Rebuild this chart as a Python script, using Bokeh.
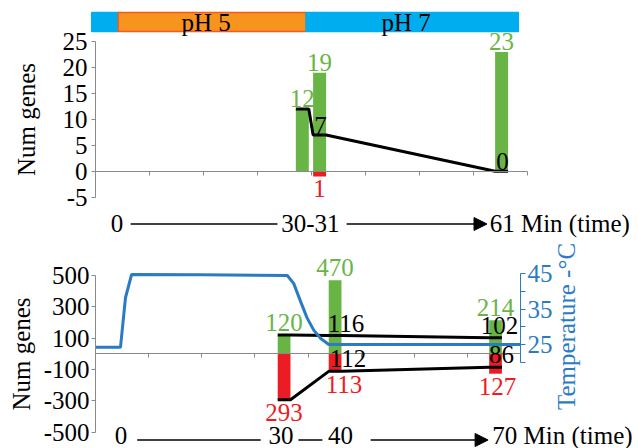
import math
from bokeh.plotting import figure
from bokeh.models import (ColumnDataSource, LabelSet, Range1d, LinearAxis,
                          FixedTicker, Arrow, NormalHead, CustomJSTickFormatter)
from bokeh.embed import file_html
from bokeh.resources import INLINE
from bokeh.core.properties import value

# ---------------- data ----------------
slot_ticks = [0, 1, 2, 3, 4, 5, 6, 7, 8]

# top panel: pH shift
top_slot = [3.83, 4.15, 7.52]
top_up = [12, 19, 23]
top_down = [0, 1, 0]
top_kept = [12, 7, 0]
top_yticks = [-5, 0, 5, 10, 15, 20, 25]

ph_names = ["", "pH 5", "pH 7"]
ph_from = [-0.07, 0.42, 3.90]
ph_to = [0.42, 3.90, 7.83]

top_time_text = ["0", "30-31", "61 Min (time)"]
top_time_slot = [0.40, 3.98, 7.30]
top_time_line_from = [0.65, 4.65]
top_time_line_to = [3.37, 7.25]

# bottom panel: temperature shift
bot_slot = [3.55, 4.51, 7.53]
bot_up = [120, 470, 214]
bot_down = [293, 113, 127]
bot_kept_up = [120, 116, 102]
bot_kept_down = [293, 112, 86]
bot_yticks = [-500, -300, -100, 100, 300, 500]

temp_slot = [0.0, 0.47, 0.565, 0.68, 1.98, 3.61, 3.73, 3.86, 3.98, 4.11, 4.24, 4.39, 8.0]
temp_c = [24.2, 24.2, 38.3, 44.8, 44.7, 44.5, 42.3, 37.2, 32.6, 29.0, 26.7, 25.0, 25.0]
temp_ticks = [25, 35, 45]
temp_minor = [20, 30, 40]
temp_title = "Temperature -°C"

bot_time_text = ["0", "30", "40", "70 Min (time)"]
bot_time_slot = [0.48, 3.49, 4.61, 7.47]
bot_time_line_from = [0.785, 3.82, 5.18]
bot_time_line_to = [3.11, 4.27, 7.39]

# ---------------- style / layout ----------------
FONT = "Liberation Serif"
FS = "25px"
GRAY = "#8a8a8a"
GREEN = "#68b545"
RED = "#ec1c24"
BLUE_T = "#2a7bc4"
PH_BLUE = "#00aeef"
PH_ORANGE = "#f7941d"
PH_EDGE = "#f15a24"
BAR_W = 0.24

W, H = 638, 448
X_LO, X_HI, Y_LO, Y_HI = 0, W, 0, H   # picture pixels covered by the canvas

# picture-pixel anchors of each scale
TX0, TXU = 95.0, 54.0       # top: slot 0 at x=95, px per slot
TZ, TGU = 170.7, 5.18       # top: gene 0 at y, px per gene
BX0, BXU = 95.0, 53.125     # bottom
BZ, BGU = 353.3, 0.1567
T45, TCU = 273.3, 3.536     # temperature: 45 C at y, px per degree


def hrange(x0, ppu):
    return Range1d((X_LO - x0) / ppu, (X_HI - x0) / ppu)


def vrange(y0, v0, ppu):
    return Range1d(v0 + (y0 - Y_HI) / ppu, v0 + (y0 - Y_LO) / ppu)


def tgy(py):   # picture y -> top gene units
    return (TZ - py) / TGU


def bgy(py):
    return (BZ - py) / BGU


p = figure(width=W, height=H, x_range=hrange(BX0, BXU), y_range=vrange(BZ, 0, BGU),
           x_axis_location=None, y_axis_location=None,
           output_backend="svg", toolbar_location=None,
           min_border_left=0, min_border_right=0, min_border_top=0, min_border_bottom=0)
p.extra_x_ranges = {"xtop": hrange(TX0, TXU)}
p.extra_y_ranges = {"top": vrange(TZ, 0, TGU), "temp": vrange(T45, 45, TCU)}
p.outline_line_color = None
p.grid.visible = False

TOP = dict(x_range_name="xtop", y_range_name="top")
BOT = dict()
PLAIN = "return tick.toString()"


def add_labels(xs, ys, texts, color, yoff=0, xoff=0, align="center", rn=BOT,
               baseline="alphabetic", angle=0):
    src = ColumnDataSource(dict(x=xs, y=ys, t=texts))
    p.add_layout(LabelSet(x="x", y="y", text="t", source=src, angle=angle,
                          text_font=value(FONT), text_font_size=FS,
                          text_color=color, text_align=align,
                          text_baseline=baseline, x_offset=xoff, y_offset=yoff,
                          **rn))


def style_axis(ax, color=GRAY, label_color="black"):
    ax.axis_line_color = color
    ax.major_tick_line_color = color
    ax.minor_tick_line_color = color
    ax.major_label_text_font = FONT
    ax.major_label_text_font_size = FS
    ax.major_label_text_color = label_color
    ax.axis_label_text_font = FONT
    ax.axis_label_text_font_size = FS
    ax.axis_label_text_font_style = "normal"
    ax.axis_label_text_color = label_color
    ax.minor_tick_in = 0


def zero_axis(rn):
    ax = LinearAxis(fixed_location=0, bounds=(0, 8),
                    ticker=FixedTicker(ticks=slot_ticks),
                    formatter=CustomJSTickFormatter(code="return ''"), **rn)
    style_axis(ax)
    ax.major_label_standoff = 0
    ax.major_tick_in = 0
    ax.major_tick_out = 4
    ax.minor_tick_out = 0
    p.add_layout(ax, "below")


def time_row(slots, texts, lf, lt, base_py, line_py, conv, rn):
    add_labels(slots[:-1], [conv(base_py)] * (len(slots) - 1), texts[:-1], "black", rn=rn)
    add_labels(slots[-1:], [conv(base_py)], texts[-1:], "black", align="left", rn=rn)
    p.add_layout(Arrow(end=None, line_width=1.5, line_color="black",
                       source=ColumnDataSource(dict(x0=lf[:-1], x1=lt[:-1],
                                                    y=[conv(line_py)] * (len(lf) - 1))),
                       x_start="x0", x_end="x1", y_start="y", y_end="y", **rn))
    p.add_layout(Arrow(end=NormalHead(size=13, fill_color="black", line_color="black"),
                       line_width=1.5, line_color="black",
                       x_start=lf[-1], x_end=lt[-1],
                       y_start=conv(line_py), y_end=conv(line_py), **rn))


# ================= top chart =================
p.quad(left=ph_from, right=ph_to, bottom=tgy(31), top=tgy(12),
       fill_color=[PH_BLUE, PH_ORANGE, PH_BLUE],
       line_color=[PH_BLUE, PH_EDGE, PH_BLUE], line_width=1.5, **TOP)
add_labels([(a + b) / 2 for a, b in zip(ph_from, ph_to)][1:], [tgy(30)] * 2,
           ph_names[1:], "black", xoff=-6, rn=TOP)

p.vbar(x=top_slot, width=BAR_W, bottom=0, top=top_up, color=GREEN, line_color=None, **TOP)
p.vbar(x=top_slot, width=BAR_W, top=0, bottom=[-d for d in top_down], color=RED,
       line_color=None, **TOP)
p.line([v for x in top_slot for v in (x - BAR_W / 2, x + BAR_W / 2)],
       [v for n in top_kept for v in (n, n)], color="black", line_width=3, **TOP)

tya = LinearAxis(fixed_location=0, bounds=(-5, 25), ticker=FixedTicker(ticks=top_yticks),
                 formatter=CustomJSTickFormatter(code=PLAIN),
                 axis_label="Num genes", **TOP)
style_axis(tya)
tya.major_tick_out = 4
tya.major_tick_in = 0
tya.minor_tick_out = 0
tya.major_label_standoff = 4
tya.axis_label_standoff = 20
p.add_layout(tya, "left")
zero_axis(TOP)

add_labels(top_slot, top_up, [str(v) for v in top_up], GREEN, yoff=2, rn=TOP)
idx = [i for i, d in enumerate(top_down) if d]
add_labels([top_slot[i] for i in idx], [-top_down[i] for i in idx],
           [str(top_down[i]) for i in idx], RED, yoff=-21, rn=TOP)
idx = [i for i in range(3) if top_kept[i] != top_up[i]]
add_labels([top_slot[i] for i in idx], [top_kept[i] for i in idx],
           [str(top_kept[i]) for i in idx], "black", yoff=1, xoff=1, rn=TOP)

time_row(top_time_slot, top_time_text, top_time_line_from, top_time_line_to,
         231.5, 223.5, tgy, TOP)

# ================= bottom chart =================
p.vbar(x=bot_slot, width=BAR_W, bottom=0, top=bot_up, color=GREEN, line_color=None)
p.vbar(x=bot_slot, width=BAR_W, top=0, bottom=[-d for d in bot_down], color=RED,
       line_color=None)
lx = [v for x in bot_slot for v in (x - BAR_W / 2, x + BAR_W / 2)]
p.line(lx, [v for n in bot_kept_up for v in (n, n)], color="black", line_width=3)
p.line(lx, [v for n in bot_kept_down for v in (-n, -n)], color="black", line_width=3)
p.line(temp_slot, temp_c, y_range_name="temp", color=BLUE_T, line_width=3)

bya = LinearAxis(fixed_location=0, bounds=(-500, 500), ticker=FixedTicker(ticks=bot_yticks),
                 formatter=CustomJSTickFormatter(code=PLAIN),
                 axis_label="Num genes")
style_axis(bya)
bya.major_tick_out = 4
bya.major_tick_in = 0
bya.minor_tick_out = 0
bya.major_label_standoff = 2
bya.axis_label_standoff = 6
p.add_layout(bya, "left")

tra = LinearAxis(fixed_location=8, y_range_name="temp", bounds=(20, 45),
                 ticker=FixedTicker(ticks=temp_ticks, minor_ticks=temp_minor))
style_axis(tra, BLUE_T, BLUE_T)
tra.major_tick_out = 5
tra.major_tick_in = 0
tra.minor_tick_out = 5
tra.major_label_standoff = 2
p.add_layout(tra, "right")
# rotated temperature title (reads bottom to top), centred at picture (566, 326)
add_labels([(566 - BX0) / BXU], [45 + (T45 - 326) / TCU], [temp_title], BLUE_T,
           baseline="middle", angle=math.pi / 2, rn=dict(y_range_name="temp"))
zero_axis(BOT)

dx = [0, 9 / BXU, 2 / BXU]
add_labels(bot_slot, bot_up, [str(v) for v in bot_up], GREEN, yoff=4)
add_labels([x + d for x, d in zip(bot_slot, dx)], [-v for v in bot_down],
           [str(v) for v in bot_down], RED, yoff=-21)
idx = [i for i in range(3) if bot_kept_up[i] != bot_up[i]]
add_labels([bot_slot[i] + dx[i] for i in idx], [bot_kept_up[i] for i in idx],
           [str(bot_kept_up[i]) for i in idx], "black", yoff=4, xoff=2)
idx = [i for i in range(3) if bot_kept_down[i] != bot_down[i]]
add_labels([bot_slot[i] + dx[i] for i in idx], [-bot_kept_down[i] for i in idx],
           [str(bot_kept_down[i]) for i in idx], "black", yoff=4, xoff=4)

time_row(bot_time_slot, bot_time_text, bot_time_line_from, bot_time_line_to,
         443, 439.5, bgy, BOT)

open("out.html", "w").write(file_html(p, INLINE))
